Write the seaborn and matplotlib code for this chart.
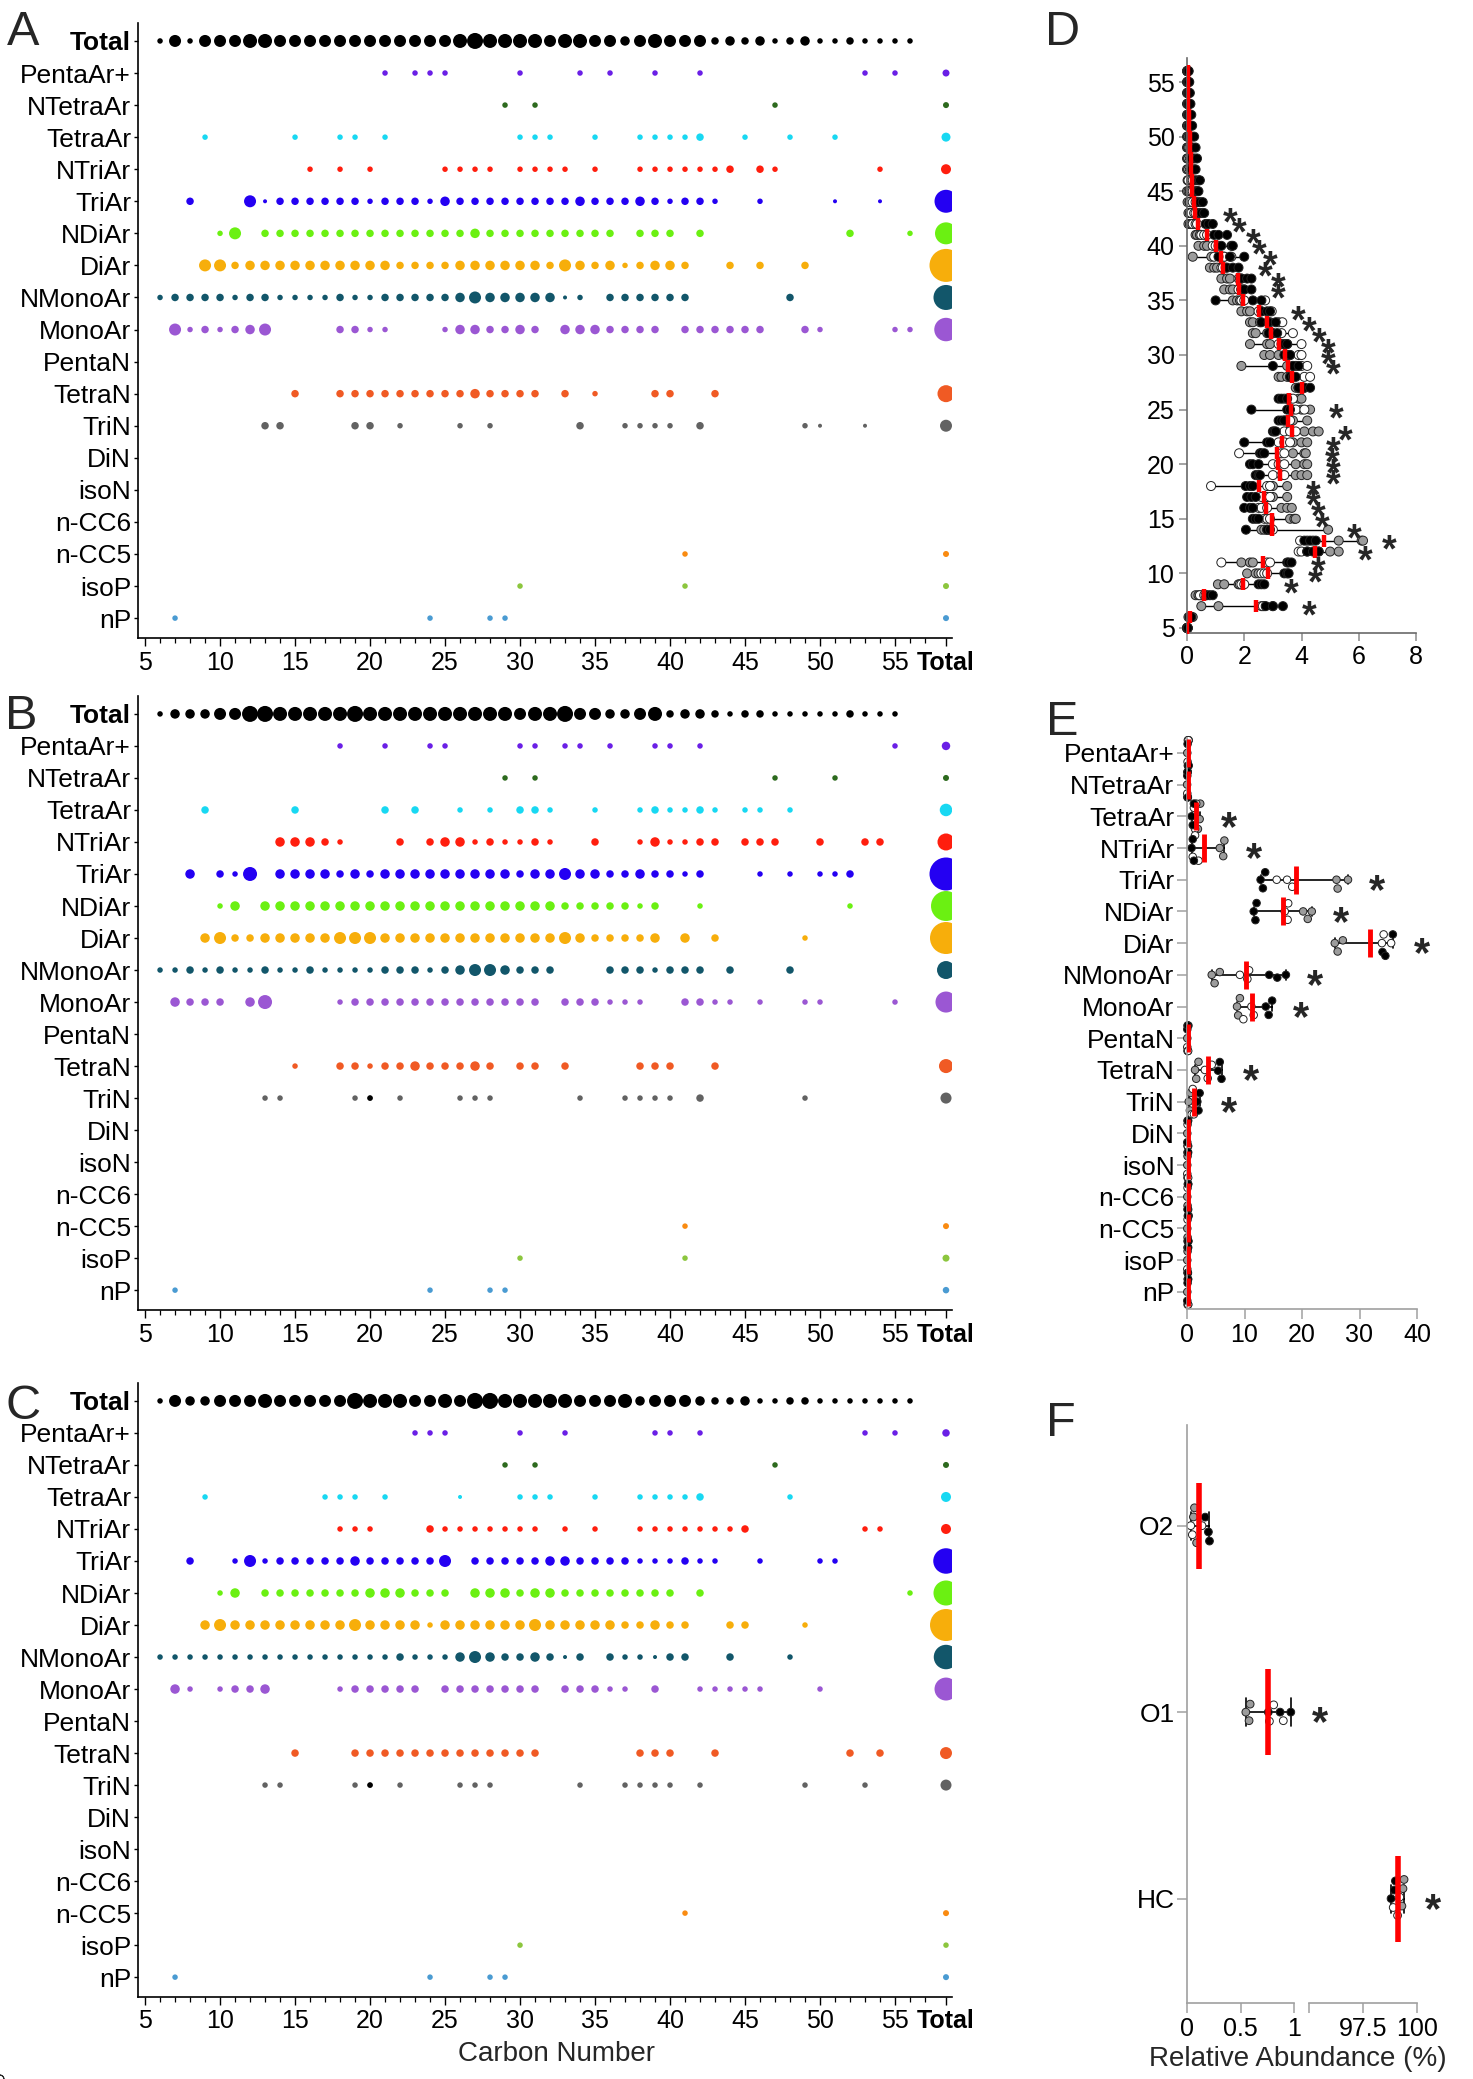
import warnings

import matplotlib
matplotlib.use("Agg")
import matplotlib.pyplot as plt
import pandas as pd
import seaborn as sns

warnings.filterwarnings("ignore")

W, H = 1473, 2079

# region Data
rows = ["Total", "PentaAr+", "NTetraAr", "TetraAr", "NTriAr", "TriAr", "NDiAr", "DiAr",
        "NMonoAr", "MonoAr", "PentaN", "TetraN", "TriN", "DiN", "isoN", "n-CC6",
        "n-CC5", "isoP", "nP"]

row_colors = {
    "Total": "#000000", "PentaAr+": "#6A1FE6", "NTetraAr": "#2D6A1E", "TetraAr": "#18D8F2",
    "NTriAr": "#FF1E0E", "TriAr": "#2400F2", "NDiAr": "#6BF012", "DiAr": "#F7AE0B",
    "NMonoAr": "#12566A", "MonoAr": "#9B57D3", "PentaN": "#888888", "TetraN": "#F05A24",
    "TriN": "#626262", "DiN": "#888888", "isoN": "#888888", "n-CC6": "#888888",
    "n-CC5": "#F98B12", "isoP": "#8CC63E", "nP": "#4A9BD2",
}

# bubble size classes -> approx. relative abundance (%)
size_class_pct = {"1": 0.47, "2": 0.89, "3": 1.65, "4": 2.65, "5": 4.23, "6": 5.76, "7": 7.52}
TOTAL_X = 58.4

# one char per carbon number C6..C57, groups: 6-9 | 10-19 | 20-29 | 30-39 | 40-49 | 50-57
a_rows = {
    "Total":    "2525 5566555555 5555556766 6656655456 5553434234 2232222.",
    "PentaAr+": ".... .......... .2.222.... 2...2.2..2 ..2....... ...2.2..",
    "NTetraAr": ".... .......... .........2 .2........ .......2.. ........",
    "TetraAr":  "...2 .....2..22 .2........ 222..2..22 223..2..2. .2......",
    "NTriAr":   ".... ......2.2. 2....2222. 2222.2..22 22223.32.. ....2...",
    "TriAr":    "..3. ..51333333 2333243333 3333433343 2332..2... .1..1...",
    "NDiAr":    ".... 25.3333333 3333333433 3333333.33 3.3....... ..3...2.",
    "DiAr":     "...5 5344444444 4433334444 4435434234 43..3.3..3 ........",
    "NMonoAr":  "2333 3233222232 2333334544 44412.3333 33......3. ........",
    "MonoAr":   ".523 2345....33 22...24433 43.4443333 .333333..3 2....22.",
    "TetraN":   ".... .....3..33 3333333433 33.3.2...3 3..3...... ........",
    "TriN":     ".... ...33....3 3.2...2.2. ....3..222 2.3......2 1..1....",
    "n-CC5":    ".... .......... .......... .......... .2........ ........",
    "isoP":     ".... .......... .......... 2......... .2........ ........",
    "nP":       ".2.. .......... ....2...22 .......... .......... ........",
}
a_total = [1.44, 1.06, 2.38, 2.94, 15.5, 14.2, 32.0, 18.4, 16.2, 0, 8.5, 4.23, 0, 0, 0, 1.06, 1.06, 1.06]
a_trin_black = []

b_rows = {
    "Total":    "2444 5577666667 6666666666 5667554456 3443233222 223222..",
    "PentaAr+": ".... ........2. .2..22.... 22.22.2..2 2.2....... .....2..",
    "NTetraAr": ".... .......... .........2 .2........ .......2.. .2......",
    "TetraAr":  "...3 .....3.... .3.3..2.2. 332..2..23 2232.22.2. ........",
    "NTriAr":   ".... ....44432. ..3.344232 232..3..24 2233.333.. 3..33...",
    "TriAr":    "..4. 326.444434 3444444444 3445443343 323...2.2. 223.....",
    "NDiAr":    ".... 24.4444444 4444444444 4443333323 ..2....... ..2.....",
    "DiAr":     "...4 5334444455 5444444444 4445433334 .4.3.....2 ........",
    "NMonoAr":  "2232 3223223222 2333234554 333...3332 333.3...3. ........",
    "MonoAr":   ".433 3.46....23 3333333333 33.333222. .3322.2..2 2....2..",
    "TetraN":   ".... .....2..33 233433343. 33.3....33 3..3...... ........",
    "TriN":     ".... ...22....2 2.2...222. ....2..222 2.3......2 ........",
    "n-CC5":    ".... .......... .......... .......... .2........ ........",
    "isoP":     ".... .......... .......... 2......... .2........ ........",
    "nP":       ".2.. .......... ....2...22 .......... .......... ........",
}
b_total = [2.1, 1.06, 4.6, 8.5, 32.0, 26.4, 30.1, 9.5, 13.0, 0, 5.8, 3.6, 0, 0, 0, 1.06, 1.44, 1.24]
b_trin_black = [20]

c_rows = {
    "Total":    "2544 5556555557 6665565776 6666555645 5543342233 2222222.",
    "PentaAr+": ".... .......... ...222.... 2..2.....2 2.2....... ...2.2..",
    "NTetraAr": ".... .......... .........2 .2........ .......2.. ........",
    "TetraAr":  "...2 .......222 .2....1... 222..2..22 223.....2. ........",
    "NTriAr":   ".... ........22 2...322222 22.2.2..22 222223.... ...22...",
    "TriAr":    "..3. .252333334 333335.333 3344333322 2322..2... 22......",
    "NDiAr":    ".... 24.3333333 444333.444 3443333333 3.3....... ......2.",
    "DiAr":     "...4 5444444445 4444244444 4544444334 33..33...2 ........",
    "NMonoAr":  "2222 2222222222 2232224543 34313.3221 33..3...2. ........",
    "MonoAr":   ".42. 2334....23 3333.33333 33.33322.3 ..22222... 2.......",
    "TetraN":   ".... .....3...3 3333333333 33......33 3..3...... ..3.3...",
    "TriN":     ".... ...22....2 2.2...222. ....2..222 2.2......2 ...2....",
    "n-CC5":    ".... .......... .......... .......... .2........ ........",
    "isoP":     ".... .......... .......... 2......... .......... ........",
    "nP":       ".2.. .......... ....2...22 .......... .......... ........",
}
c_total = [1.65, 1.06, 2.94, 2.94, 19.1, 18.4, 30.1, 17.6, 15.5, 0, 4.23, 3.56, 0, 0, 0, 1.06, 0.89, 1.06]
c_trin_black = [20]

# panel D: relative abundance by carbon number, three replicates per group
d_carbon = list(range(5, 57))
d_black = [
    [0.01, 0.02, 0.03], [0.08, 0.12, 0.15], [2.75, 3.0, 3.35], [0.7, 0.8, 0.9], [2.5, 2.6, 2.7],
    [3.4, 3.5, 3.55], [3.5, 3.55, 3.65], [4.2, 4.4, 4.6], [4.1, 4.3, 4.5], [2.06, 2.8, 2.9],
    [2.3, 2.4, 2.5], [2.0, 2.2, 2.3], [2.1, 2.25, 2.4], [2.05, 2.2, 2.3], [2.4, 2.5, 2.55],
    [2.2, 2.3, 2.5], [2.55, 2.6, 2.7], [2.0, 2.8, 2.9], [3.0, 3.05, 3.1], [3.2, 3.3, 3.4],
    [2.25, 3.5, 3.6], [3.2, 3.3, 3.5], [3.9, 4.1, 4.3], [3.6, 3.7, 3.8], [3.0, 3.7, 3.9],
    [3.4, 3.5, 3.6], [3.3, 3.4, 3.5], [2.85, 3.0, 3.15], [2.6, 2.85, 3.1], [2.6, 2.8, 2.9],
    [1.0, 2.3, 2.6], [1.9, 2.0, 2.25], [1.9, 2.1, 2.25], [1.4, 1.6, 1.8], [1.1, 1.5, 2.0],
    [1.2, 1.55, 1.6], [0.95, 1.1, 1.4], [0.65, 0.75, 0.9], [0.4, 0.5, 0.6], [0.35, 0.45, 0.55],
    [0.3, 0.35, 0.4], [0.3, 0.4, 0.45], [0.15, 0.25, 0.3], [0.15, 0.25, 0.35], [0.15, 0.2, 0.3],
    [0.1, 0.15, 0.25], [0.08, 0.12, 0.18], [0.06, 0.1, 0.15], [0.05, 0.08, 0.12], [0.05, 0.07, 0.1],
    [0.04, 0.06, 0.08], [0.02, 0.04, 0.06],
]
d_gray = [
    [0.0, 0.01, 0.02], [0.1, 0.15, 0.2], [0.5, 1.1, 2.7], [0.3, 0.4, 0.5], [1.08, 1.3, 1.8],
    [2.1, 2.4, 2.5], [1.9, 2.2, 2.3], [4.6, 5.0, 5.3], [5.3, 6.1, 6.15], [2.6, 2.7, 4.93],
    [3.6, 3.75, 3.8], [3.3, 3.5, 3.66], [2.8, 3.0, 3.5], [2.9, 3.0, 3.5], [3.8, 4.0, 4.2],
    [3.8, 4.1, 4.2], [3.7, 4.1, 4.15], [3.7, 4.0, 4.2], [4.1, 4.4, 4.6], [3.5, 3.7, 4.2],
    [3.6, 4.0, 4.3], [3.5, 3.9, 4.0], [3.8, 3.9, 4.0], [3.2, 3.3, 3.5], [1.9, 3.5, 3.7],
    [2.7, 2.9, 3.2], [2.2, 2.8, 2.9], [2.3, 2.4, 2.8], [2.2, 2.3, 2.55], [1.9, 2.1, 2.2],
    [1.6, 1.75, 1.85], [1.3, 1.5, 1.6], [1.2, 1.4, 1.5], [0.8, 0.95, 1.05], [0.2, 0.85, 1.3],
    [0.4, 0.6, 0.7], [0.3, 0.35, 0.45], [0.05, 0.1, 0.15], [0.05, 0.1, 0.15], [0.02, 0.08, 0.12],
    [0.0, 0.05, 0.1], [0.02, 0.05, 0.1], [0.0, 0.04, 0.08], [0.0, 0.03, 0.06], [0.0, 0.03, 0.05],
    [0.0, 0.03, 0.05], [0.0, 0.02, 0.04], [0.0, 0.02, 0.04], [0.0, 0.02, 0.03], [0.0, 0.02, 0.03],
    [0.0, 0.01, 0.02], [0.0, 0.01, 0.02],
]
d_white = [
    [0.0, 0.01, 0.02], [0.05, 0.1, 0.12], [2.6, 2.65, 3.0], [0.45, 0.6, 0.65], [1.85, 1.9, 2.0],
    [2.6, 2.7, 2.8], [1.2, 2.8, 2.9], [3.9, 4.0, 4.2], [3.95, 4.2, 4.4], [2.8, 2.9, 3.0],
    [2.7, 2.8, 2.9], [2.5, 2.6, 2.8], [2.6, 2.8, 2.9], [0.84, 2.8, 2.9], [3.0, 3.3, 3.4],
    [3.0, 3.2, 3.4], [1.82, 3.3, 3.4], [3.2, 3.4, 3.6], [3.4, 3.6, 3.8], [3.4, 3.5, 3.6],
    [3.7, 3.8, 4.1], [3.4, 3.6, 3.7], [3.9, 4.0, 4.1], [3.6, 4.1, 4.3], [3.8, 4.0, 4.2],
    [3.6, 3.9, 4.0], [3.2, 3.5, 4.0], [3.0, 3.3, 3.7], [2.9, 3.2, 3.33], [2.5, 2.6, 2.96],
    [1.9, 2.0, 2.73], [1.8, 1.9, 2.0], [1.8, 1.85, 1.9], [1.2, 1.25, 1.35], [0.95, 1.3, 1.55],
    [0.9, 1.0, 1.1], [0.5, 0.6, 0.7], [0.2, 0.3, 0.35], [0.15, 0.25, 0.3], [0.1, 0.2, 0.3],
    [0.1, 0.15, 0.2], [0.05, 0.15, 0.2], [0.05, 0.1, 0.15], [0.05, 0.1, 0.15], [0.05, 0.08, 0.12],
    [0.05, 0.08, 0.1], [0.03, 0.06, 0.08], [0.03, 0.05, 0.07], [0.02, 0.04, 0.06], [0.02, 0.04, 0.05],
    [0.02, 0.03, 0.04], [0.01, 0.02, 0.03],
]
d_sig = [7, 9, 10, 11, 12, 13, 14, 15, 16, 17, 18, 19, 20, 21, 22, 23, 25, 29, 30, 31, 32,
         33, 34, 36, 37, 38, 39, 40, 41, 42, 43]

# panel E: relative abundance by class
e_rows = rows[1:]
e_black = [
    [0.1, 0.2, 0.3], [0.05, 0.1, 0.15], [0.8, 1.0, 1.2], [0.8, 1.0, 1.2], [12.8, 13.2, 13.6],
    [11.6, 11.9, 12.1], [34.0, 34.5, 35.8], [14.3, 15.7, 17.2], [13.7, 14.2, 14.8], [0.05, 0.1, 0.15],
    [5.4, 5.7, 6.0], [1.8, 2.0, 2.2], [0.05, 0.1, 0.15], [0.1, 0.15, 0.2], [0.1, 0.15, 0.2],
    [0.1, 0.2, 0.25], [0.1, 0.15, 0.2], [0.05, 0.1, 0.2],
]
e_gray = [
    [0.05, 0.15, 0.3], [0.02, 0.08, 0.12], [1.9, 2.2, 2.3], [5.7, 6.3, 6.5], [26.0, 26.2, 28.0],
    [20.2, 21.0, 21.7], [25.7, 26.2, 27.1], [4.3, 4.8, 5.7], [8.7, 8.9, 9.2], [0.05, 0.15, 0.25],
    [1.4, 1.6, 2.0], [0.3, 0.5, 0.6], [0.05, 0.1, 0.2], [0.05, 0.1, 0.15], [0.05, 0.1, 0.2],
    [0.05, 0.1, 0.15], [0.05, 0.1, 0.15], [0.05, 0.15, 0.2],
]
e_white = [
    [0.1, 0.15, 0.25], [0.05, 0.1, 0.12], [1.2, 1.4, 1.6], [1.0, 1.4, 2.0], [15.6, 17.4, 18.3],
    [17.0, 17.5, 17.6], [33.9, 34.2, 35.5], [9.2, 10.5, 10.8], [9.8, 11.2, 11.6], [0.05, 0.1, 0.2],
    [3.1, 3.6, 4.3], [0.8, 1.0, 1.2], [0.1, 0.15, 0.2], [0.05, 0.1, 0.2], [0.1, 0.15, 0.2],
    [0.1, 0.2, 0.3], [0.05, 0.1, 0.15], [0.1, 0.15, 0.2],
]
e_sig = ["TetraAr", "NTriAr", "TriAr", "NDiAr", "DiAr", "NMonoAr", "MonoAr", "TetraN", "TriN"]

# panel F: heteroatom classes
f_rows = ["O2", "O1", "HC"]
f_black = [[0.17, 0.2, 0.21], [0.76, 0.87, 0.97], [98.8, 98.95, 99.0]]
f_gray = [[0.06, 0.07, 0.09], [0.55, 0.58, 0.59], [99.3, 99.35, 99.4]]
f_white = [[0.035, 0.05, 0.14], [0.77, 0.81, 0.9], [98.9, 99.1, 99.2]]
f_sig = ["O1", "HC"]

group_colors = {"black": "#000000", "gray": "#9C9C9C", "white": "#FFFFFF"}
# endregion

AREA_K = (33 * 0.72) ** 2 / 32.0   # pt^2 per % (DiAr total bubble of panel A)

sns.set_style("ticks")
plt.rcParams["font.family"] = ["Liberation Sans", "DejaVu Sans"]
plt.rcParams["axes.linewidth"] = 1.2

fig = plt.figure(figsize=(W / 100, H / 100), dpi=100)


def px_axes(left, top, right, bottom):
    return fig.add_axes([left / W, 1 - bottom / H, (right - left) / W, (bottom - top) / H])


def bubble_frame(panel_rows, panel_total, trin_black):
    recs = []
    for i, name in enumerate(rows):
        code = panel_rows.get(name, "").replace(" ", "")
        if code:
            assert len(code) == 52, (name, len(code))
        for k, ch in enumerate(code):
            if ch != ".":
                recs.append({"carbon": 6 + k, "row": i, "key": name, "pct": size_class_pct[ch]})
    for i, name in enumerate(rows[1:], start=1):
        if panel_total[i - 1] > 0:
            recs.append({"carbon": TOTAL_X, "row": i, "key": name, "pct": panel_total[i - 1]})
    for c in trin_black:
        recs.append({"carbon": c, "row": rows.index("TriN"), "key": "Total", "pct": size_class_pct["2"]})
    return pd.DataFrame(recs)


def draw_bubbles(ax, df):
    sns.scatterplot(data=df, x="carbon", y="row", hue="key", palette=row_colors,
                    size="pct", sizes=(0, 40 * AREA_K), size_norm=(0, 40),
                    linewidth=0, legend=False, ax=ax)
    ax.set_xlim(4.53, 58.8)
    ax.set_ylim(18.62, -0.56)
    ax.set_yticks(range(len(rows)))
    ax.set_yticklabels(rows)
    major = list(range(5, 56, 5))
    ax.set_xticks(major + [TOTAL_X])
    ax.set_xticklabels([str(v) for v in major] + ["Total"])
    ax.set_xticks(range(5, 58), minor=True)
    for lbl in ax.get_yticklabels() + ax.get_xticklabels():
        if lbl.get_text() == "Total":
            lbl.set_fontweight("bold")
    ax.set_xlabel("")
    ax.set_ylabel("")
    sns.despine(ax=ax)
    for sp in ax.spines.values():
        sp.set_color("black")
    ax.tick_params(axis="y", length=3, width=1, pad=2, labelsize=19, colors="black")
    ax.tick_params(axis="x", which="major", length=6, width=1, pad=3, labelsize=18, colors="black")
    ax.tick_params(axis="x", which="minor", length=3.5, width=0.9, colors="black")


def long_frame(labels, black, gray, white, key):
    recs = []
    for lab, b, g, w in zip(labels, black, gray, white):
        for grp, vals in (("gray", g), ("white", w), ("black", b)):
            for v in vals:
                recs.append({key: lab, "value": v, "group": grp})
    return pd.DataFrame(recs)


def star(ax, x, y, dx_pt, fs):
    ax.annotate("*", xy=(x, y), xytext=(dx_pt, -0.56 * fs), textcoords="offset points",
                ha="center", va="baseline", fontsize=fs, fontweight="bold",
                annotation_clip=False, zorder=6)


def style_side(ax, spine_color):
    sns.despine(ax=ax)
    for sp in ax.spines.values():
        sp.set_color(spine_color)
    ax.set_xlabel("")
    ax.set_ylabel("")
    for coll in ax.collections:
        coll.set_clip_on(False)


# ---- A, B, C ----
for rect, prow, ptot, pblack in (((138, 23, 952, 638), a_rows, a_total, a_trin_black),
                                 ((138, 696, 952, 1310), b_rows, b_total, b_trin_black),
                                 ((138, 1383, 952, 1997), c_rows, c_total, c_trin_black)):
    draw_bubbles(px_axes(*rect), bubble_frame(prow, ptot, pblack))

fig.text(557 / W, 1 - 2054 / H, "Carbon Number", ha="center", va="center", fontsize=20)

# ---- D ----
axD = px_axes(1187, 58, 1416, 633)
d_df = long_frame(d_carbon, d_black, d_gray, d_white, "carbon")
sns.pointplot(data=d_df, x="value", y="carbon", orient="h", native_scale=True,
              estimator="mean", errorbar=("pi", 100), linestyle="none", markersize=0,
              color="black", err_kws={"linewidth": 1.0, "zorder": 1.5}, ax=axD)
sns.scatterplot(data=d_df, x="value", y="carbon", hue="group", palette=group_colors,
                s=42, edgecolor="#222222", linewidth=0.7, legend=False, ax=axD, zorder=2)
sns.pointplot(data=d_df, x="value", y="carbon", orient="h", native_scale=True,
              estimator="mean", errorbar=None, linestyle="none", marker="|",
              markersize=8, markeredgewidth=3.2, color="red", zorder=4, ax=axD)
axD.set_xlim(0, 8)
axD.set_ylim(4.54, 57.2)
axD.set_xticks([0, 2, 4, 6, 8])
axD.set_xticklabels(["0", "2", "4", "6", "8"])
axD.set_yticks(range(5, 56, 5))
axD.set_yticklabels([str(v) for v in range(5, 56, 5)])
style_side(axD, "#6a6a6a")
axD.tick_params(axis="both", colors="#8a8a8a", labelcolor="black", labelsize=18,
                length=6, width=1.1, pad=3)
for c in d_sig:
    vals = d_df.loc[d_df["carbon"] == c, "value"]
    star(axD, vals.max(), c, 19, 27)

# ---- E ----
axE = px_axes(1187, 738, 1417, 1309)
e_df = long_frame(e_rows, e_black, e_gray, e_white, "row")
sns.pointplot(data=e_df, x="value", y="row", order=e_rows, orient="h",
              estimator="mean", errorbar=("pi", 100), capsize=0.3, linestyle="none",
              markersize=0, color="black", err_kws={"linewidth": 1.2, "zorder": 1.5}, ax=axE)
sns.swarmplot(data=e_df, x="value", y="row", order=e_rows, orient="h", hue="group",
              palette=group_colors, size=5.4, edgecolor="#222222", linewidth=0.7,
              legend=False, ax=axE, zorder=2)
sns.pointplot(data=e_df, x="value", y="row", order=e_rows, orient="h",
              estimator="mean", errorbar=None, linestyle="none", marker="|",
              markersize=20, markeredgewidth=3.5, color="red", zorder=4, ax=axE)
axE.set_xlim(0, 40)
axE.set_ylim(17.54, -0.47)
axE.set_xticks([0, 10, 20, 30, 40])
axE.set_xticklabels(["0", "10", "20", "30", "40"])
style_side(axE, "#a0a0a0")
axE.tick_params(axis="both", colors="#a0a0a0", labelcolor="black", length=7, width=1.1)
axE.tick_params(axis="y", labelsize=19, pad=2)
axE.tick_params(axis="x", labelsize=18, pad=3)
for name in e_sig:
    vals = e_df.loc[e_df["row"] == name, "value"]
    star(axE, vals.max(), e_rows.index(name), 21, 30)

# ---- F (broken x axis) ----
axF1 = px_axes(1187, 1425, 1294, 2003)
axF2 = px_axes(1309, 1425, 1417, 2003)
axF2.patch.set_visible(False)
f_df = long_frame(f_rows, f_black, f_gray, f_white, "row")
for ax, sub in ((axF1, f_df[f_df["row"] != "HC"]), (axF2, f_df[f_df["row"] == "HC"])):
    sns.pointplot(data=sub, x="value", y="row", order=f_rows, orient="h",
                  estimator="mean", errorbar=("pi", 100), capsize=0.15, linestyle="none",
                  markersize=0, color="black", err_kws={"linewidth": 1.2, "zorder": 1.5}, ax=ax)
    sns.swarmplot(data=sub, x="value", y="row", order=f_rows, orient="h", hue="group",
                  palette=group_colors, size=5.6, edgecolor="#222222", linewidth=0.7,
                  legend=False, ax=ax, zorder=2)
    sns.pointplot(data=sub, x="value", y="row", order=f_rows, orient="h",
                  estimator="mean", errorbar=None, linestyle="none", marker="|",
                  markersize=62, markeredgewidth=4, color="red", zorder=4, ax=ax)
    ax.set_ylim(2.56, -0.54)
    style_side(ax, "#a0a0a0")
    ax.tick_params(axis="both", colors="#a0a0a0", labelcolor="black", length=7, width=1.1)
    ax.tick_params(axis="x", labelsize=18, pad=3)
    ax.tick_params(axis="y", labelsize=19, pad=2)

axF1.set_xlim(0, 1.0)
axF1.set_xticks([0, 0.5, 1.0])
axF1.set_xticklabels(["0", "0.5", "1"])
axF2.set_xlim(95, 100)
axF2.set_xticks([95, 97.5, 100])
axF2.set_xticklabels(["", "97.5", "100"])
axF2.spines["left"].set_visible(False)
axF2.tick_params(axis="y", left=False, labelleft=False)
for name in f_sig:
    ax = axF2 if name == "HC" else axF1
    vals = f_df.loc[f_df["row"] == name, "value"]
    star(ax, vals.max(), f_rows.index(name), 21, 30)

fig.text(1298 / W, 1 - 2059 / H, "Relative Abundance (%)", ha="center", va="center", fontsize=20)

# ---- panel letters ----
for letter, x, y in (("A", 7, 45), ("B", 5, 729), ("C", 5, 1419),
                     ("D", 1045, 45), ("E", 1046, 735), ("F", 1046, 1436)):
    fig.text(x / W, 1 - y / H, letter, ha="left", va="baseline", fontsize=35)

fig.savefig("out.png", dpi=100)
plt.close(fig)
